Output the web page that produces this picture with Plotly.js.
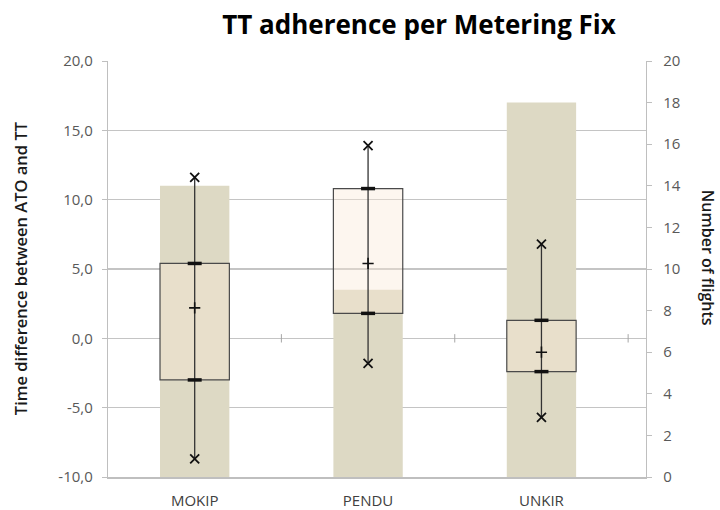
<!DOCTYPE html>
<html>
<head>
<meta charset="utf-8">
<script src="https://cdn.plot.ly/plotly-3.0.1.min.js"></script>
<style>html,body{margin:0;padding:0;background:#fff;}#chart{width:720px;height:510px;}</style>
</head>
<body>
<div id="chart"></div>
<script>
// Data
const categories = ['MOKIP', 'PENDU', 'UNKIR'];
const flights = [14, 9, 18];          // right axis: Number of flights
const minVals = [-8.7, -1.8, -5.7];   // lower whisker (x marker)
const q1Vals = [-3.0, 1.8, -2.4];     // box bottom
const meanVals = [2.2, 5.4, -1.0];    // mean (+ marker)
const q3Vals = [5.4, 10.8, 1.3];      // box top
const maxVals = [11.6, 13.9, 6.8];    // upper whisker (x marker)
const leftTicks = [-10, -5, 0, 5, 10, 15, 20];
const leftTickText = ['-10,0', '-5,0', '0,0', '5,0', '10,0', '15,0', '20,0'];
const boundaries = [0.5, 1.5, 2.5];   // category separators on the horizontal axis

const idx = categories.map((c, i) => i);

const whiskX = [], whiskY = [];
idx.forEach(i => { whiskX.push(i, i, null); whiskY.push(minVals[i], maxVals[i], null); });

const font = 'Open Sans, DejaVu Sans, sans-serif';

const traces = [
  { type: 'bar', x: idx, y: flights, yaxis: 'y', width: 0.4,
    marker: { color: '#ddd9c4', line: { width: 0 } }, hoverinfo: 'skip' },
  { type: 'bar', x: idx, base: q1Vals, y: q3Vals.map((v, i) => v - q1Vals[i]), yaxis: 'y2', width: 0.4,
    marker: { color: 'rgba(250,232,215,0.4)', line: { color: '#4a4a4a', width: 1.2 } }, hoverinfo: 'skip' },
  { type: 'scatter', mode: 'lines', x: whiskX, y: whiskY, yaxis: 'y2',
    line: { color: '#333', width: 1.3 }, hoverinfo: 'skip' },
  { type: 'scatter', mode: 'markers', x: idx.concat(idx), y: q1Vals.concat(q3Vals), yaxis: 'y2',
    marker: { symbol: 'line-ew', size: 10, line: { color: '#111', width: 3.5 } }, hoverinfo: 'skip' },
  { type: 'scatter', mode: 'markers', x: idx.concat(idx), y: minVals.concat(maxVals), yaxis: 'y2',
    marker: { symbol: 'x-thin', size: 9, line: { color: '#111', width: 1.8 } }, hoverinfo: 'skip' },
  { type: 'scatter', mode: 'markers', x: idx, y: meanVals, yaxis: 'y2',
    marker: { symbol: 'cross-thin', size: 8, line: { color: '#111', width: 1.6 } }, hoverinfo: 'skip' },
  { type: 'scatter', mode: 'markers', x: boundaries, y: boundaries.map(() => 0), yaxis: 'y2',
    marker: { symbol: 'line-ns', size: 6, line: { color: '#a6a6a6', width: 1 } }, hoverinfo: 'skip' }
];

const layout = {
  width: 720, height: 510,
  margin: { l: 108, r: 74, t: 61, b: 33 },
  paper_bgcolor: '#fff', plot_bgcolor: 'rgba(0,0,0,0)',
  showlegend: false,
  barmode: 'overlay',
  separators: ',.',
  font: { family: font, color: '#595959' },
  title: { text: 'TT adherence per Metering Fix', x: 0.582, xanchor: 'center', y: 0.951, yanchor: 'middle', yref: 'container',
    font: { family: font, size: 26, weight: 700, color: '#000' } },
  xaxis: { range: [-0.5, 2.603], tickmode: 'array', tickvals: idx, ticktext: categories,
    showgrid: false, zeroline: false, showline: true, linecolor: '#bfbfbf', linewidth: 1.5,
    ticks: '', ticklabelstandoff: 9, tickfont: { family: font, size: 15, color: '#404040' }, fixedrange: true },
  yaxis: { side: 'right', range: [0, 20], dtick: 2, showgrid: false, zeroline: false,
    showline: true, linecolor: '#bfbfbf', linewidth: 1.2, ticks: 'outside', ticklen: 5, tickcolor: '#bfbfbf',
    ticklabelstandoff: 8, tickfont: { family: font, size: 15, color: '#595959' } },
  yaxis2: { overlaying: 'y', side: 'left', range: [-10, 20], tickmode: 'array', tickvals: leftTicks, ticktext: leftTickText,
    showgrid: true, gridcolor: '#c4c4c4', gridwidth: 1.2, zeroline: false,
    showline: true, linecolor: '#bfbfbf', linewidth: 1.2, ticks: 'outside', ticklen: 5, tickcolor: '#bfbfbf',
    ticklabelstandoff: 6, tickfont: { family: font, size: 15, color: '#595959' } },
  annotations: [
    { text: 'Time difference between ATO and TT', xref: 'paper', yref: 'paper', x: -0.1636, y: 0.502,
      xanchor: 'center', yanchor: 'middle', textangle: -90, showarrow: false,
      font: { family: font, size: 16.5, weight: 600, color: '#1a1a1a' } },
    { text: 'Number of flights', xref: 'paper', yref: 'paper', x: 1.1152, y: 0.527,
      xanchor: 'center', yanchor: 'middle', textangle: 90, showarrow: false,
      font: { family: font, size: 16, weight: 600, color: '#1a1a1a' } }
  ]
};

Plotly.newPlot('chart', traces, layout, { displayModeBar: false, staticPlot: true });
</script>
</body>
</html>
